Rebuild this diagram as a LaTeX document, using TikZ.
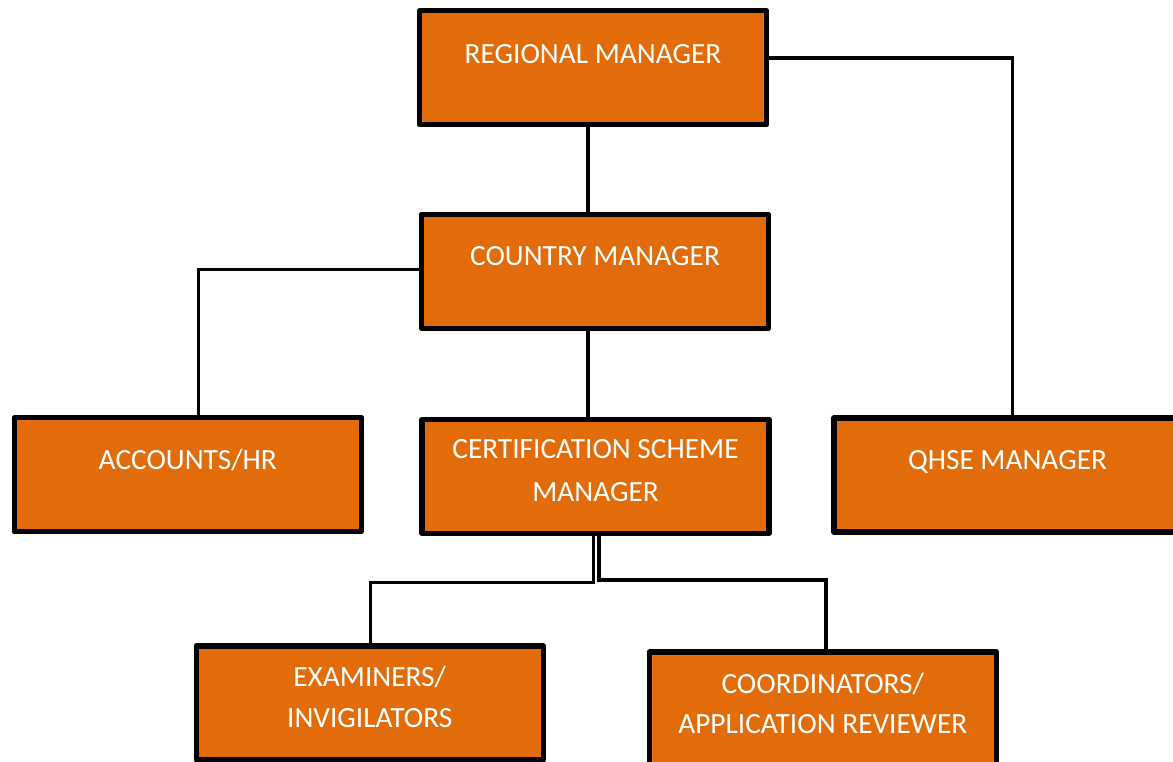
\documentclass[tikz,border=0pt]{standalone}
\usepackage{fontspec}
\setmainfont{Carlito}
\usetikzlibrary{calc,backgrounds}
\definecolor{boxorange}{HTML}{E36C0A}
\tikzset{
  x=0.75pt, y=-0.75pt,
  unitbox/.style={draw=black, fill=boxorange, line width=4pt, line join=round,
    rectangle, minimum width=347*0.75pt, minimum height=114*0.75pt,
    inner sep=0pt, outer sep=0pt},
  boxtext/.style={text=white, font=\fontsize{22}{26}\selectfont, inner sep=0pt,
    anchor=base},
  link/.style={draw=black, line width=2.5pt, line join=miter},
}
\begin{document}
\begin{tikzpicture}
\useasboundingbox (0,0) rectangle (1173,762);
\clip (0,0) rectangle (1173,762);

% boxes
\node[unitbox] (reg)   at (593,67.8)   {};
\node[unitbox] (cty)   at (595,271.3)  {};
\node[unitbox] (acc)   at (187.8,474.8) {};
\node[unitbox] (cert)  at (595.5,476.3) {};
\node[unitbox] (qhse)  at (1007.5,474.9) {};
\node[unitbox] (exam)  at (369.7,703)  {};
\node[unitbox] (coord) at (822.8,709)  {};

% labels (baselines measured from each box's top edge)
\node[boxtext] (regT)   at ($(reg.north)+(0,52.5)$)  {REGIONAL MANAGER};
\node[boxtext] (ctyT)   at ($(cty.north)+(0,51.5)$)  {COUNTRY MANAGER};
\node[boxtext] (accT)   at ($(acc.north)+(0,51.5)$)  {ACCOUNTS/HR};
\node[boxtext] (qhseT)  at ($(qhse.north)+(0,51.5)$) {QHSE MANAGER};
\node[boxtext] (certA)  at ($(cert.north)+(0,39.5)$) {CERTIFICATION SCHEME};
\node[boxtext] (certB)  at ($(cert.north)+(0,82)$)   {MANAGER};
\node[boxtext] (examA)  at ($(exam.north)+(0,40.7)$) {EXAMINERS/};
\node[boxtext] (examB)  at ($(exam.north)+(0,81.3)$) {INVIGILATORS};
\node[boxtext] (coordA) at ($(coord.north)+(0,41)$)  {COORDINATORS/};
\node[boxtext] (coordB) at ($(coord.north)+(0,81)$)  {APPLICATION REVIEWER};

% routing guides for the connectors
\coordinate (trunk)  at (588,0);
\coordinate (qx)     at (1012.7,0);
\coordinate (qy)     at (0,58);
\coordinate (ax)     at (198.3,0);
\coordinate (ay)     at (0,269.3);
\coordinate (lx)     at (593.7,0);
\coordinate (ly)     at (0,582.7);
\coordinate (ex)     at (370.5,0);
\coordinate (rx)     at (599,0);
\coordinate (ry)     at (0,580);
\coordinate (kx)     at (826,0);

\begin{scope}[on background layer]
  \draw[link] (reg.south -| trunk) -- (cty.north -| trunk);
  \draw[link] (reg.east |- qy) -| (qhse.north -| qx);
  \draw[link] (cty.west |- ay) -| (acc.north -| ax);
  \draw[link] (cty.south -| trunk) -- (cert.north -| trunk);
  \draw[link] (cert.south -| lx) -- (lx |- ly) -| (exam.north -| ex);
  \draw[link] (cert.south -| rx) -- (rx |- ry) -| (coord.north -| kx);
\end{scope}
\end{tikzpicture}
\end{document}
